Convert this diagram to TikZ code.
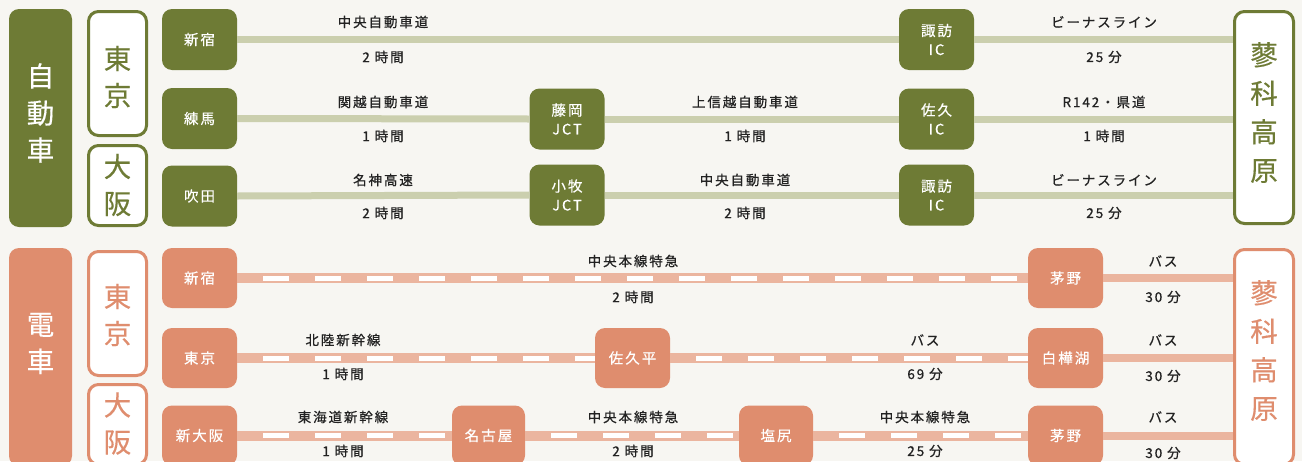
\documentclass[tikz,border=0pt]{standalone}
\usepackage{fontspec}
\newfontfamily\jp[LetterSpace=14,FakeBold=0.7]{Noto Sans CJK JP}
\newfontfamily\jpw[LetterSpace=14,FakeBold=0.4]{Noto Sans CJK JP}
\newfontfamily\jpn[FakeBold=0.4]{Noto Sans CJK JP}
\definecolor{bg}{HTML}{F7F6F2}
\definecolor{olive}{HTML}{6E7B35}
\definecolor{oliveL}{HTML}{CBCFAE}
\definecolor{salmon}{HTML}{DF8D6E}
\definecolor{salmonL}{HTML}{EBB59F}
\definecolor{txt}{HTML}{222222}
\begin{document}
\begin{tikzpicture}[x=1pt,y=-1pt,
  gbox/.style={fill=olive, rounded corners=10pt, text=white, minimum width=75pt, minimum height=61pt, inner sep=0pt, align=center, font=\jpw\fontsize{14.5}{19}\selectfont},
  sbox/.style={gbox, fill=salmon},
  bigbox/.style={rounded corners=10pt, inner sep=0pt},
  gout/.style={bigbox, draw=olive, line width=3pt, fill=white},
  sout/.style={bigbox, draw=salmon, line width=3pt, fill=white},
  bigtxt/.style={align=center, inner sep=0pt, font=\jpn\fontsize{27.5}{37}\selectfont},
  road/.style={draw=oliveL, line width=7pt},
  rail/.style={draw=white, line width=5pt, dash pattern=on 26pt off 26pt, dash phase=26pt,
    preaction={draw=salmonL, line width=10pt, solid}},
  bus/.style={draw=salmonL, line width=8pt},
  lbl/.style={text=txt, inner sep=0pt, font=\jp\fontsize{13.5}{13.5}\selectfont}]
\useasboundingbox (0,0) rectangle (1302,461);
\fill[bg] (0,0) rectangle (1302,461);
\clip (0,0) rectangle (1302,461);

% ===== car section =====
\node[bigbox, fill=olive, minimum width=63pt, minimum height=218pt] (ccar) at (40.5,118) {};
\node[bigtxt, text=white] (ccarlbl) at (40.5,113) {自\\動\\車};
\node[gout, minimum width=58pt, minimum height=124pt] (ctokyo) at (117.5,73.5) {};
\node[bigtxt, text=olive] (ctokyolbl) at (117.5,77) {東\\京};
\node[gout, minimum width=58pt, minimum height=80pt] (cosaka) at (117.5,185.5) {};
\node[bigtxt, text=olive] (cosakalbl) at (117.5,185) {大\\阪};
\node[gout, minimum width=59pt, minimum height=212pt] (cgoal) at (1264,117.5) {};
\node[bigtxt, text=olive, font=\jpn\fontsize{27.5}{38.5}\selectfont] (cgoallbl) at (1264,112.5) {蓼\\科\\高\\原};

\node[gbox] (c1s) at (199.5,39.5) {新宿};
\node[gbox] (c2s) at (199.5,118.5) {練馬};
\node[gbox] (c3s) at (199.5,196) {吹田};
\node[gbox] (c2j) at (567,119) {藤岡\\JCT};
\node[gbox] (c3j) at (567,195) {小牧\\JCT};
\node[gbox] (c1i) at (936.5,39.5) {諏訪\\IC};
\node[gbox] (c2i) at (936.5,119) {佐久\\IC};
\node[gbox] (c3i) at (936.5,195) {諏訪\\IC};

\draw[road] (c1s.east) -- (c1i.west);
\draw[road] (c1i.east) -- (c1i.east -| cgoal.west);
\draw[road] (c2s.east) -- (c2j.west);
\draw[road] (c2j.east) -- (c2i.west);
\draw[road] (c2i.east) -- (c2i.east -| cgoal.west);
\draw[road] (c3s.east) -- (c3j.west);
\draw[road] (c3j.east) -- (c3i.west);
\draw[road] (c3i.east) -- (c3i.east -| cgoal.west);

\node[lbl] (l1a) at (383,22) {中央自動車道};
\node[lbl] (l1b) at (383,57) {2 時間};
\node[lbl] (l1c) at (1104,22) {ビーナスライン};
\node[lbl] (l1d) at (1104,57) {25 分};
\node[lbl] (l2a) at (383,102) {関越自動車道};
\node[lbl] (l2b) at (383,136) {1 時間};
\node[lbl] (l2c) at (745,102) {上信越自動車道};
\node[lbl] (l2d) at (745,136) {1 時間};
\node[lbl] (l2e) at (1104,102) {R142・県道};
\node[lbl] (l2f) at (1104,136) {1 時間};
\node[lbl] (l3a) at (383,180) {名神高速};
\node[lbl] (l3b) at (383,213) {2 時間};
\node[lbl] (l3c) at (745,180) {中央自動車道};
\node[lbl] (l3d) at (745,213) {2 時間};
\node[lbl] (l3e) at (1104,180) {ビーナスライン};
\node[lbl] (l3f) at (1104,213) {25 分};

% ===== train section =====
\node[bigbox, fill=salmon, minimum width=63pt, minimum height=218pt] (ttrain) at (40.5,357) {};
\node[bigtxt, text=white] (ttrainlbl) at (40.5,343.5) {電\\車};
\node[sout, minimum width=58pt, minimum height=124pt] (ttokyo) at (117.5,313.5) {};
\node[bigtxt, text=salmon] (ttokyolbl) at (117.5,315) {東\\京};
\node[sout, minimum width=58pt, minimum height=80pt] (tosaka) at (117.5,424.5) {};
\node[bigtxt, text=salmon] (tosakalbl) at (117.5,423.5) {大\\阪};
\node[sout, minimum width=59pt, minimum height=215pt] (tgoal) at (1264,357) {};
\node[bigtxt, text=salmon, font=\jpn\fontsize{27.5}{38.5}\selectfont] (tgoallbl) at (1264,350.5) {蓼\\科\\高\\原};

\node[sbox, minimum height=60pt] (t1s) at (199.5,278) {新宿};
\node[sbox, minimum height=60pt] (t2s) at (199.5,358) {東京};
\node[sbox, minimum height=60pt] (t3s) at (199.5,435.5) {新大阪};
\node[sbox, minimum height=60pt] (t2m) at (632.5,358) {佐久平};
\node[sbox, minimum height=60pt, minimum width=73pt] (t3n) at (488.5,435.5) {名古屋};
\node[sbox, minimum height=60pt, minimum width=74pt] (t3o) at (776,435.5) {塩尻};
\node[sbox, minimum height=60pt] (t1c) at (1065.5,278) {茅野};
\node[sbox, minimum height=60pt] (t2h) at (1065.5,358) {白樺湖};
\node[sbox, minimum height=60pt] (t3c) at (1065.5,435.5) {茅野};

\draw[rail] (t1s.east) -- (t1c.west);
\draw[bus] (t1c.east) -- (t1c.east -| tgoal.west);
\draw[rail] (t2s.east) -- (t2m.west);
\draw[rail] (t2m.east) -- (t2h.west);
\draw[bus] (t2h.east) -- (t2h.east -| tgoal.west);
\draw[rail] (t3s.east) -- (t3n.west);
\draw[rail] (t3n.east) -- (t3o.west);
\draw[rail] (t3o.east) -- (t3c.west);
\draw[bus] (t3c.east) -- (t3c.east -| tgoal.west);

\node[lbl] (m1a) at (633,261) {中央本線特急};
\node[lbl] (m1b) at (633,297) {2 時間};
\node[lbl] (m1c) at (1163,261) {バス};
\node[lbl] (m1d) at (1163,297) {30 分};
\node[lbl] (m2a) at (343,340) {北陸新幹線};
\node[lbl] (m2b) at (343,374) {1 時間};
\node[lbl] (m2c) at (925,340) {バス};
\node[lbl] (m2d) at (925,374) {69 分};
\node[lbl] (m2e) at (1163,340) {バス};
\node[lbl] (m2f) at (1163,376) {30 分};
\node[lbl] (m3a) at (343,417) {東海道新幹線};
\node[lbl] (m3b) at (343,451) {1 時間};
\node[lbl] (m3c) at (633,417) {中央本線特急};
\node[lbl] (m3d) at (633,451) {2 時間};
\node[lbl] (m3e) at (925,417) {中央本線特急};
\node[lbl] (m3f) at (925,451) {25 分};
\node[lbl] (m3g) at (1163,417) {バス};
\node[lbl] (m3h) at (1163,453) {30 分};
\end{tikzpicture}
\end{document}
